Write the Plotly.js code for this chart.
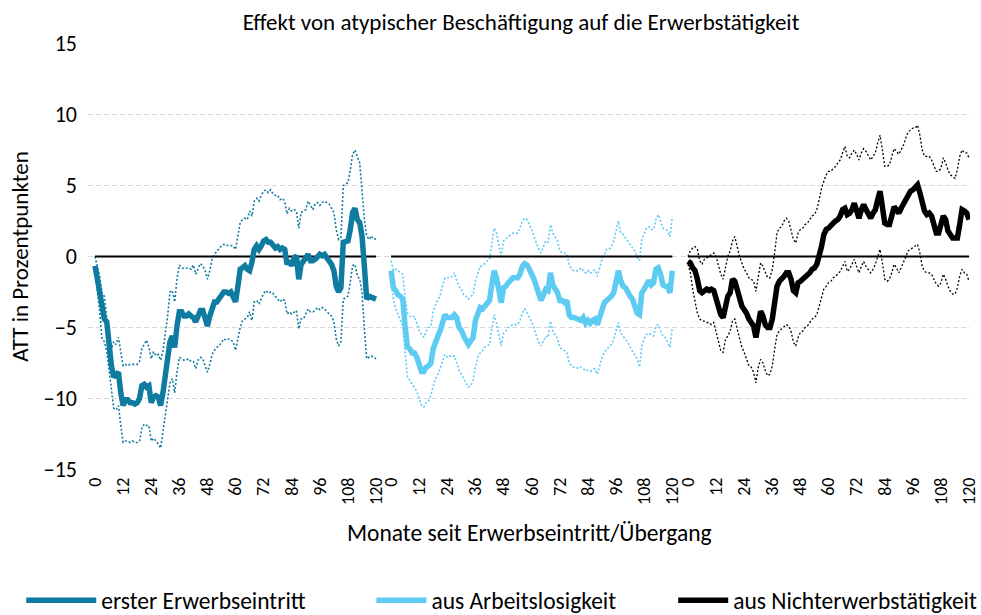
<!DOCTYPE html>
<html>
<head>
<meta charset="utf-8">
<script src="https://cdn.plot.ly/plotly-3.0.1.min.js"></script>
<style>html,body{margin:0;padding:0;background:#fff;}#chart{width:981px;height:615px;}</style>
</head>
<body>
<div id="chart"></div>
<script>
// Months since entry/transition (0..120) and axis tick labels
const months = Array.from({length: 121}, (_, i) => i);
const tickLabels = [0, 12, 24, 36, 48, 60, 72, 84, 96, 108, 120];
const yTicks = [-15, -10, -5, 0, 5, 10, 15];

const seriesNames = ["erster Erwerbseintritt", "aus Arbeitslosigkeit", "aus Nichterwerbstätigkeit"];

// Panel 1: erster Erwerbseintritt
const p1Att = [-0.66,-1.6,-2.8,-4.0,-4.4,-4.6,-6.3,-7.7,-8.5,-8.3,-8.15,-9.6,-10.5,-10.1,-10.1,-10.3,-10.3,-10.4,-10.3,-10.0,-9.1,-9.0,-9.2,-9.1,-10.3,-9.9,-9.8,-9.9,-10.5,-9.6,-8.6,-7.4,-6.0,-5.6,-6.4,-4.9,-3.9,-3.9,-4.2,-4.2,-4.05,-4.2,-4.3,-4.6,-4.2,-3.8,-3.8,-4.3,-4.9,-4.2,-3.5,-3.2,-3.2,-3.0,-2.8,-2.5,-2.5,-2.6,-2.5,-2.9,-3.2,-2.1,-0.9,-0.8,-0.65,-0.9,-1.0,-0.4,0.5,0.75,0.5,0.75,1.1,1.2,1.0,1.0,0.75,0.6,0.7,0.5,0.6,0.5,-0.55,-0.3,-0.65,-0.1,0.05,-1.6,-0.55,-0.3,-0.1,0.15,-0.3,-0.3,-0.2,0.05,0.15,0.05,0.15,-0.1,-0.3,-0.55,-1.0,-2.1,-2.5,-2.2,1.0,1.1,1.1,1.9,3.1,3.4,2.6,2.4,1.45,-0.65,-3.0,-2.8,-2.9,-2.9,-3.0];
const p1Up = [0.0,-0.8,-1.4,-2.6,-2.8,-4.4,-5.6,-6.5,-6.0,-6.2,-5.7,-6.7,-7.7,-7.6,-7.7,-7.6,-7.6,-7.6,-7.6,-7.4,-6.5,-6.2,-5.9,-6.4,-7.2,-6.7,-7.0,-6.9,-7.3,-6.7,-5.6,-4.2,-2.5,-2.4,-3.2,-1.6,-0.6,-0.8,-0.85,-0.8,-0.8,-0.9,-0.6,-1.25,-0.8,-0.5,-0.65,-1.0,-1.6,-1.0,-0.2,0.15,0.4,0.55,0.75,0.85,0.75,0.8,0.75,0.75,0.5,1.45,2.4,2.6,2.7,2.6,3.2,2.85,3.9,4.1,3.9,4.3,4.6,4.7,4.5,4.7,4.4,4.3,4.3,4.0,4.1,3.9,3.0,3.4,3.2,3.3,3.2,2.0,3.1,3.2,3.3,3.9,3.6,3.3,3.7,3.8,3.6,3.8,3.9,3.8,3.7,3.4,3.1,1.9,1.2,1.35,5.0,5.1,5.2,6.1,7.2,7.5,7.1,6.6,4.7,2.6,1.45,1.2,1.45,1.2,1.25];
const p1Lo = [-0.9,-2.3,-3.9,-5.8,-6.0,-6.7,-8.15,-9.6,-10.7,-10.8,-10.5,-11.9,-13.1,-13.0,-13.0,-13.1,-13.0,-13.1,-13.1,-13.0,-12.1,-11.8,-11.9,-11.9,-13.0,-12.8,-13.0,-13.2,-13.5,-12.4,-11.3,-10.3,-8.9,-8.6,-9.6,-8.15,-7.1,-7.2,-7.3,-7.3,-7.2,-7.4,-7.4,-7.9,-7.3,-7.1,-7.2,-7.7,-8.15,-7.6,-6.9,-6.6,-6.4,-6.3,-6.0,-5.8,-5.9,-5.8,-5.9,-6.0,-6.6,-5.8,-5.0,-4.5,-4.4,-4.3,-3.9,-4.5,-3.2,-3.1,-3.35,-2.9,-2.6,-2.4,-2.6,-2.5,-2.6,-2.8,-3.0,-3.2,-3.0,-3.1,-4.05,-3.9,-4.05,-3.9,-3.8,-5.1,-4.4,-4.4,-4.05,-3.7,-3.9,-3.9,-3.8,-3.6,-3.75,-3.6,-3.7,-3.9,-4.05,-4.2,-4.6,-5.8,-6.3,-6.0,-3.0,-2.9,-2.8,-1.8,-0.65,-0.55,-1.35,-1.6,-2.5,-5.1,-7.2,-7.1,-7.0,-7.1,-7.2];

// Panel 2: aus Arbeitslosigkeit
const p2Att = [-1.0,-2.2,-2.4,-2.7,-2.8,-3.0,-4.9,-6.4,-6.5,-6.8,-6.8,-7.1,-7.6,-8.1,-8.1,-7.8,-7.7,-7.5,-6.5,-5.95,-5.6,-5.2,-4.7,-4.1,-4.3,-4.3,-4.3,-4.1,-4.3,-5.0,-5.2,-5.6,-5.95,-6.2,-5.95,-5.7,-4.5,-4.0,-3.6,-3.7,-3.5,-3.25,-3.1,-2.0,-1.0,-1.5,-2.4,-3.25,-2.2,-2.1,-1.85,-1.7,-1.5,-1.5,-1.5,-1.25,-0.7,-0.5,-0.6,-0.9,-1.2,-1.6,-2.1,-2.8,-3.1,-2.7,-2.3,-2.4,-1.15,-2.0,-2.2,-2.55,-3.1,-3.1,-3.25,-3.1,-4.1,-4.3,-4.3,-4.4,-4.5,-4.5,-4.3,-4.7,-4.5,-4.7,-4.5,-4.4,-4.8,-4.2,-3.6,-3.25,-3.1,-3.0,-2.8,-2.55,-1.85,-1.0,-1.7,-2.1,-2.2,-2.55,-2.8,-3.0,-3.4,-4.0,-4.1,-2.55,-2.3,-2.0,-1.7,-2.0,-1.85,-0.9,-0.8,-1.25,-2.0,-2.1,-2.1,-2.55,-1.0];
const p2Up = [-0.3,-1.0,-0.9,-1.0,-1.15,-1.25,-2.9,-4.0,-4.2,-4.3,-4.2,-4.7,-5.25,-5.5,-5.7,-5.25,-5.0,-4.9,-3.85,-3.4,-3.0,-2.7,-2.0,-1.5,-1.5,-1.5,-1.4,-1.15,-1.7,-2.1,-2.3,-2.7,-2.8,-3.0,-2.8,-2.7,-1.7,-1.15,-0.7,-0.65,-0.45,-0.3,-0.2,1.0,2.0,1.65,0.7,0.0,1.1,1.2,1.4,1.55,1.65,1.65,1.65,2.0,2.5,2.7,2.6,2.25,1.9,1.4,1.0,0.5,0.25,0.7,1.1,1.0,2.25,1.65,1.4,1.1,0.4,0.25,0.25,0.15,-0.55,-0.9,-1.0,-1.0,-1.0,-0.8,-0.95,-1.15,-1.0,-1.2,-1.0,-0.95,-1.4,-0.8,-0.2,0.15,0.5,0.5,0.7,1.1,1.8,2.5,1.65,1.55,1.3,1.1,0.85,0.6,0.4,0.0,-0.3,1.2,1.65,2.0,2.1,1.9,1.9,2.6,2.95,2.5,2.0,1.9,1.8,1.4,2.8];
const p2Lo = [-1.75,-3.0,-3.7,-4.1,-4.4,-4.9,-6.8,-8.5,-8.75,-9.0,-9.2,-9.5,-10.0,-10.5,-10.6,-10.3,-10.2,-9.8,-9.1,-8.6,-8.3,-7.9,-7.35,-6.9,-7.1,-7.0,-7.1,-7.0,-7.5,-8.05,-8.3,-8.6,-9.0,-9.2,-9.1,-8.75,-7.8,-7.1,-6.8,-6.65,-6.4,-6.3,-6.2,-5.1,-4.1,-4.7,-5.5,-6.3,-5.4,-5.25,-5.0,-4.9,-4.8,-4.8,-4.8,-4.55,-3.95,-3.7,-3.95,-4.3,-4.65,-5.0,-5.6,-6.05,-6.3,-5.95,-5.6,-5.7,-4.55,-5.25,-5.5,-5.8,-6.4,-6.5,-6.65,-6.75,-7.5,-7.7,-7.8,-7.8,-7.9,-7.8,-7.9,-8.05,-8.0,-8.1,-8.0,-7.9,-8.3,-7.7,-7.1,-6.75,-6.5,-6.4,-6.2,-5.8,-5.25,-4.65,-5.4,-5.6,-5.8,-6.05,-6.4,-6.65,-6.9,-7.2,-7.8,-6.3,-5.8,-5.5,-5.4,-5.5,-5.6,-4.9,-4.8,-5.25,-5.6,-5.7,-6.05,-6.4,-5.0];

// Panel 3: aus Nichterwerbstätigkeit
const p3Att = [-0.33,-0.45,-0.8,-1.0,-1.6,-2.4,-2.55,-2.4,-2.3,-2.4,-2.3,-2.4,-3.0,-3.5,-4.1,-4.3,-3.5,-2.8,-2.55,-1.6,-1.75,-2.55,-2.9,-3.5,-3.7,-4.0,-4.4,-4.7,-4.9,-5.7,-4.7,-3.85,-4.2,-4.8,-5.0,-5.0,-4.4,-3.25,-2.1,-1.75,-1.6,-1.4,-1.15,-1.15,-1.6,-2.4,-2.55,-1.85,-1.75,-1.6,-1.5,-1.25,-1.15,-0.9,-0.8,-0.55,0.0,0.7,1.55,1.9,2.0,2.25,2.35,2.5,2.6,2.85,3.3,3.4,2.95,3.05,3.3,3.75,3.3,2.7,3.3,3.65,3.3,3.05,2.7,3.05,3.3,4.0,4.6,3.5,2.35,2.25,2.25,2.85,3.5,3.3,3.05,3.4,3.75,4.1,4.35,4.6,4.7,4.95,5.05,4.5,3.65,3.2,2.95,3.05,2.85,2.25,1.65,1.65,2.25,2.85,2.6,1.8,1.55,1.3,1.3,1.3,2.25,3.3,3.2,3.05,2.6];
const p3Up = [0.0,0.4,0.6,0.7,0.5,-0.3,-0.55,-0.2,-0.1,0.0,0.15,0.25,0.0,-0.7,-1.25,-1.6,-0.9,0.0,0.4,1.1,1.4,0.7,0.0,-0.45,-0.9,-1.15,-1.5,-1.6,-1.75,-2.45,-1.4,-0.45,-0.7,-1.15,-1.5,-1.5,-0.9,0.25,1.65,2.0,2.1,2.5,2.7,2.5,1.9,1.2,0.95,1.65,1.9,2.0,2.25,2.35,2.6,2.85,2.95,3.3,4.0,4.8,5.3,5.75,6.0,6.0,6.2,6.35,6.6,6.8,7.3,7.75,7.05,6.95,7.3,7.5,7.2,6.8,7.3,7.6,7.4,7.05,6.8,7.05,7.3,8.0,8.55,7.5,6.35,6.35,6.45,7.05,7.6,7.4,7.2,7.5,7.85,8.35,8.8,8.9,9.05,9.05,9.25,8.55,7.5,7.05,7.05,7.05,6.8,6.45,6.0,6.0,6.2,6.95,6.6,6.1,5.75,5.65,5.5,6.1,7.05,7.5,7.3,7.3,6.95];
const p3Lo = [-0.55,-1.15,-2.3,-3.15,-4.0,-4.4,-4.55,-4.55,-4.65,-4.65,-4.8,-4.65,-5.25,-6.05,-6.65,-6.75,-5.85,-5.6,-5.25,-4.55,-4.4,-5.1,-5.85,-6.4,-6.75,-7.25,-7.7,-7.8,-8.15,-8.9,-7.8,-7.25,-7.5,-8.05,-8.4,-8.3,-7.7,-6.55,-5.5,-5.25,-5.1,-4.9,-4.8,-4.9,-5.25,-6.05,-6.3,-5.7,-5.35,-5.25,-5.0,-4.9,-4.65,-4.4,-4.3,-4.1,-3.5,-2.8,-2.3,-2.1,-1.85,-1.75,-1.5,-1.4,-1.25,-1.05,-0.7,-0.35,-1.05,-0.9,-0.55,-0.2,-0.7,-1.15,-0.7,-0.35,-0.7,-0.9,-1.15,-0.9,-0.55,0.0,0.5,-0.45,-1.6,-1.75,-1.6,-1.15,-0.55,-0.8,-1.15,-0.8,-0.45,0.0,0.4,0.5,0.6,0.7,0.85,0.25,-0.7,-1.05,-1.15,-1.15,-1.25,-1.6,-1.95,-2.1,-1.85,-1.25,-1.6,-2.1,-2.45,-2.65,-2.65,-2.2,-1.4,-0.9,-1.15,-1.25,-1.75];

const FONT = "Carlito, Calibri, Lato, 'Open Sans', sans-serif";
const colors = ["#107BA1", "#5ECBF2", "#000000"];
const ciWidth = [1.6, 1.6, 1.3];
const legendIds = ["legend", "legend2", "legend3"];
const legendX = [-0.0757, 0.3213, 0.6635];
const legendItemWidth = [70, 50, 50];
const panels = [
  {xa: "x", att: p1Att, up: p1Up, lo: p1Lo},
  {xa: "x2", att: p2Att, up: p2Up, lo: p2Lo},
  {xa: "x3", att: p3Att, up: p3Up, lo: p3Lo}
];

const ciTraces = [], zeroTraces = [], attTraces = [];
panels.forEach((p, i) => {
  [p.lo, p.up].forEach(ci => ciTraces.push({
    type: "scatter", mode: "lines", x: months, y: ci, xaxis: p.xa, yaxis: "y",
    line: {color: colors[i], width: ciWidth[i], dash: "2px,2px"},
    showlegend: false, hoverinfo: "skip"
  }));
  zeroTraces.push({
    type: "scatter", mode: "lines", x: months, y: months.map(() => 0), xaxis: p.xa, yaxis: "y",
    line: {color: "#000000", width: 2.2}, showlegend: false, hoverinfo: "skip"
  });
  attTraces.push({
    type: "scatter", mode: "lines", x: months, y: p.att, xaxis: p.xa, yaxis: "y",
    name: seriesNames[i], legend: legendIds[i], showlegend: true,
    line: {color: colors[i], width: 5.5}
  });
});

const xBase = {
  anchor: "y", tickvals: tickLabels, ticktext: tickLabels.map(String), tickangle: -90,
  tickfont: {family: FONT, size: 18, color: "#000"}, showgrid: false, zeroline: false,
  showline: false, ticks: "", ticklabelstandoff: 3, fixedrange: true
};

const legendBase = {
  orientation: "v", xref: "paper", yref: "paper", xanchor: "left",
  y: -0.357, yanchor: "bottom", font: {family: FONT, size: 23.5, color: "#000"},
  bgcolor: "rgba(0,0,0,0)"
};

const layout = {
  width: 981, height: 615,
  paper_bgcolor: "#ffffff", plot_bgcolor: "#ffffff",
  margin: {l: 88, r: 11, t: 43, b: 145, autoexpand: false},
  font: {family: FONT, color: "#000"},
  title: {text: "Effekt von atypischer Beschäftigung auf die Erwerbstätigkeit",
          font: {family: FONT, size: 23, color: "#000"},
          xref: "paper", x: 0.491, xanchor: "center", yref: "container", y: 0.964, yanchor: "middle"},
  xaxis: Object.assign({}, xBase, {domain: [0, 0.3319], range: [-3, 122]}),
  xaxis2: Object.assign({}, xBase, {domain: [0.3356, 0.6678], range: [-3, 122]}),
  xaxis3: Object.assign({}, xBase, {domain: [0.6723, 1], range: [-3, 120.4]}),
  yaxis: {
    range: [-15.04, 15.04], tickvals: yTicks, showgrid: true,
    gridcolor: "#D9D9D9", griddash: "5px,3px", gridwidth: 1.4, zeroline: false, showline: false,
    ticks: "", ticklabelstandoff: 10, tickfont: {family: FONT, size: 22, color: "#000"},
    title: {text: "ATT in Prozentpunkten", font: {family: FONT, size: 23, color: "#000"}, standoff: 8},
    fixedrange: true
  },
  annotations: [{
    text: "Monate seit Erwerbseintritt/Übergang", xref: "paper", yref: "paper",
    x: 0.5, y: -0.1475, xanchor: "center", yanchor: "middle", showarrow: false,
    font: {family: FONT, size: 23.5, color: "#000"}
  }],
  showlegend: true,
  legend: Object.assign({}, legendBase, {x: legendX[0], itemwidth: legendItemWidth[0]}),
  legend2: Object.assign({}, legendBase, {x: legendX[1], itemwidth: legendItemWidth[1]}),
  legend3: Object.assign({}, legendBase, {x: legendX[2], itemwidth: legendItemWidth[2]})
};

Plotly.newPlot("chart", ciTraces.concat(zeroTraces, attTraces), layout, {displayModeBar: false, staticPlot: true});
</script>
</body>
</html>
